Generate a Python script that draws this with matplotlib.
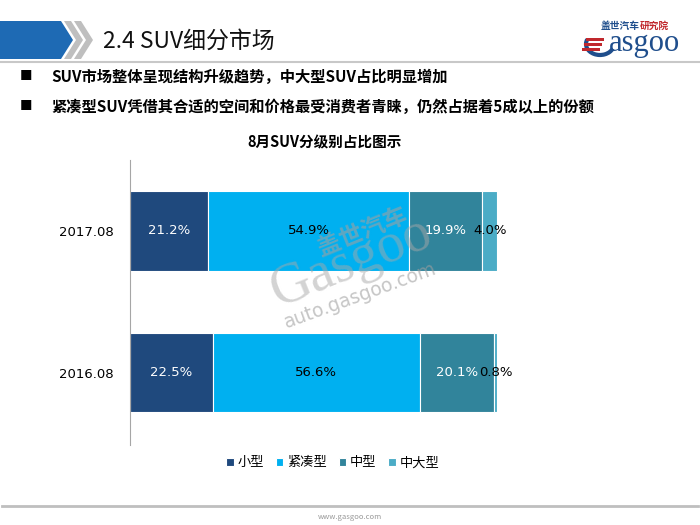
import numpy as np
import matplotlib
matplotlib.use('Agg')
import matplotlib.pyplot as plt
from matplotlib.patches import Polygon, Rectangle, Arc

plt.rcParams['font.family'] = ['Noto Sans CJK SC', 'DejaVu Sans']

# ── Data ──────────────────────────────────────────────────────────────
years    = ['2016.08', '2017.08']
segments = ['小型', '紧凑型', '中型', '中大型']
small    = [22.5, 21.2]
compact  = [56.6, 54.9]
midsize  = [20.1, 19.9]
large    = [0.8, 4.0]
COLORS   = ['#1F497D', '#00B0F0', '#31849B', '#4BACC6']
LABEL_C  = ['white', 'black', 'white', 'black']

fig = plt.figure(figsize=(7, 5.25), dpi=100)

# ── Page decoration (pixel coords overlay) ───────────────────────────
bg = fig.add_axes([0, 0, 1, 1])
bg.set_xlim(0, 700); bg.set_ylim(525, 0); bg.axis('off')
for x0 in (74, 64):
    bg.add_patch(Polygon([[x0, 21], [x0 + 7, 21], [x0 + 19, 40], [x0 + 7, 59],
                          [x0, 59], [x0 + 12, 40]], closed=True,
                         color='#BFBFBF', lw=0))
bg.add_patch(Polygon([[0, 21], [61, 21], [73, 40], [61, 59], [0, 59]],
                     closed=True, color='#1E6AB4', lw=0))
bg.plot([0, 700], [62, 62], color='#C8C8C8', lw=1.5)
bg.text(103, 41, '2.4 SUV细分市场', fontsize=16.5, va='center', ha='left', color='#111111')
# logo
bg.text(640, 26, '盖世汽车', fontsize=7, color='#1F4E8C', ha='right', va='center', fontweight='bold')
bg.text(640, 26, '研究院', fontsize=7, color='#C0282D', ha='left', va='center', fontweight='bold')
bg.text(645, 44, 'asgoo', fontsize=22, color='#1F4E8C', ha='center', va='center',
        family='Liberation Serif')
bg.add_patch(Arc((600, 44), 28, 22, theta1=20, theta2=200, color='#1F4E8C', lw=3))
for i, yy in enumerate((38, 43, 48)):
    bg.add_patch(Rectangle((586 - i * 2, yy), 18, 2.5, color='#C0282D', lw=0))

for y, txt in [(77, 'SUV市场整体呈现结构升级趋势，中大型SUV占比明显增加'),
               (107, '紧凑型SUV凭借其合适的空间和价格最受消费者青睐，仍然占据着5成以上的份额')]:
    bg.text(26, y, '■', fontsize=9, ha='center', va='center', color='black')
    bg.text(51, y, txt, fontsize=11, ha='left', va='center', fontweight='bold')
bg.text(325, 142, '8月SUV分级别占比图示', fontsize=10.5, ha='center', va='center', fontweight='bold')

bg.plot([2, 698], [506, 506], color='#BFBFBF', lw=2)
bg.text(350, 517, 'www.gasgoo.com', fontsize=5.5, color='#999999', ha='center', va='center')

# ── Chart ─────────────────────────────────────────────────────────────
ax = fig.add_axes([130 / 700, 1 - 445 / 525, 367 / 700, 285 / 525])
y = np.arange(len(years))
left = np.zeros(len(years))
series = [small, compact, midsize, large]
for name, vals, col, lc in zip(segments, series, COLORS, LABEL_C):
    vals = np.array(vals)
    ax.barh(y, vals, left=left, height=0.56, color=col, edgecolor='white',
            linewidth=0.8, label=name)
    for yi, l, v in zip(y, left, vals):
        ax.text(l + v / 2, yi, f'{v:.1f}%', ha='center', va='center',
                fontsize=9.5, color=lc, family='DejaVu Sans')
    left += vals

ax.set_xlim(0, 100)
ax.set_ylim(-0.51, 1.5)
ax.set_yticks(y)
ax.set_yticklabels(years, fontsize=9.5, family='DejaVu Sans')
ax.tick_params(axis='y', length=0, pad=12)
ax.set_xticks([])
for s in ['top', 'right', 'bottom']:
    ax.spines[s].set_visible(False)
ax.spines['left'].set_color('#A6A6A6')
ax.patch.set_alpha(0)

ax.legend(loc='center', bbox_to_anchor=(0.553, -0.063), ncol=4, frameon=False,
          fontsize=9.5, handlelength=0.55, handleheight=0.55, handletextpad=0.3,
          columnspacing=0.9)

# ── Watermark on top ──────────────────────────────────────────────────
wm = fig.add_axes([0, 0, 1, 1])
wm.set_xlim(0, 700); wm.set_ylim(525, 0); wm.axis('off')
wm.text(362, 232, '盖世汽车', fontsize=17, color='#A0A0A0', alpha=0.6, rotation=22,
        ha='center', va='center', fontweight='bold')
wm.text(352, 262, 'Gasgoo', fontsize=40, color='#A8A8A8', alpha=0.5, rotation=22,
        ha='center', va='center', family='Liberation Serif')
wm.text(360, 296, 'auto.gasgoo.com', fontsize=13.5, color='#A0A0A0', alpha=0.6, rotation=20,
        ha='center', va='center', family='DejaVu Sans')

fig.savefig('out.png', dpi=100)
